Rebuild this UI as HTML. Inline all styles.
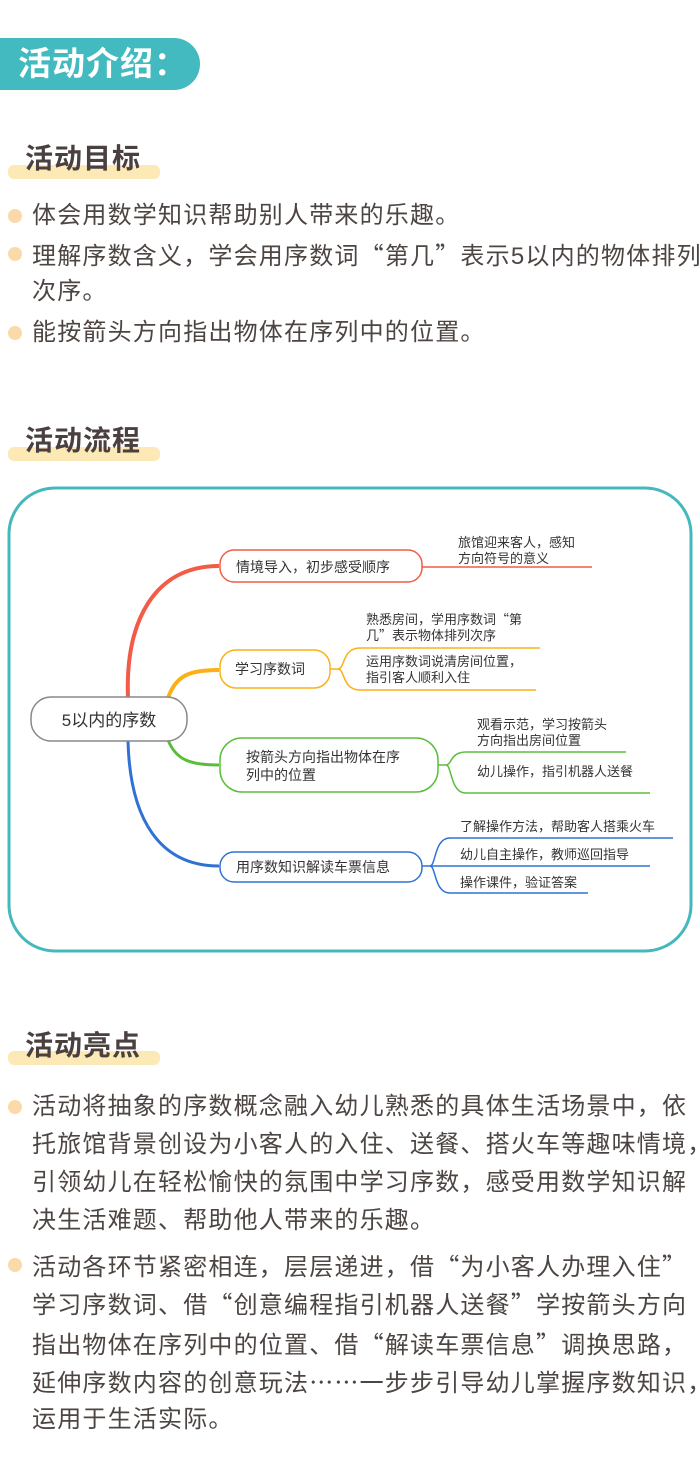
<!DOCTYPE html>
<html><head><meta charset="utf-8">
<style>
*{margin:0;padding:0;box-sizing:border-box}
body{width:700px;height:1477px;background:#fff;position:relative;overflow:hidden;font-family:"Liberation Sans","Noto Sans CJK SC",sans-serif;color:#4d4542}
.banner{position:absolute;left:0;top:38px;width:200px;height:52px;background:#42babf;border-radius:0 26px 26px 0;color:#fff;font-size:33px;font-weight:bold;line-height:52px;padding-left:18px;letter-spacing:1px}
.hl{position:absolute;left:8px;height:14px;background:#fde9b5;border-radius:6px}
.h{position:absolute;left:25px;font-size:28px;font-weight:bold;color:#4a4040;line-height:34px;letter-spacing:1px}
.l{position:absolute;left:32px;font-size:24px;line-height:38px;height:38px;letter-spacing:1.2px;white-space:nowrap}
.q{font-family:"Noto Sans CJK SC",sans-serif}
.dot{position:absolute;left:8px;width:14px;height:14px;border-radius:50%;background:#fbd9a8}
svg text{font-family:"Liberation Sans","Noto Sans CJK SC",sans-serif;fill:#333}
svg tspan.q{font-family:"Noto Sans CJK SC",sans-serif}
</style></head><body>
<div class="banner">活动介绍：</div>

<div class="hl" style="top:165px;width:152px"></div>
<div class="h" style="top:142px">活动目标</div>
<div class="dot" style="top:209px"></div>
<div class="l" style="top:197px">体会用数学知识帮助别人带来的乐趣。</div>
<div class="dot" style="top:247px"></div>
<div class="l" style="top:235px">理解序数含义，学会用序数词<span class="q">“</span>第几<span class="q">”</span>表示5以内的物体排列</div>
<div class="l" style="top:273px">次序。</div>
<div class="dot" style="top:326px"></div>
<div class="l" style="top:314px">能按箭头方向指出物体在序列中的位置。</div>

<div class="hl" style="top:447px;width:152px"></div>
<div class="h" style="top:424px">活动流程</div>

<svg style="position:absolute;left:0;top:0" width="700" height="1000" viewBox="0 0 700 1000">
<rect x="9" y="488" width="682" height="463" rx="46" fill="none" stroke="#45b8bd" stroke-width="3"/>
<path d="M128 698 C125 620 155 566 219 566" fill="none" stroke="#f25b45" stroke-width="4"/>
<path d="M168 698 C176 675 190 670 219 670" fill="none" stroke="#fbb017" stroke-width="4"/>
<path d="M168 740 C176 760 190 765 219 765" fill="none" stroke="#5bbd3c" stroke-width="3"/>
<path d="M128 741 C130 820 160 866 219 866" fill="none" stroke="#2f72d4" stroke-width="3"/>
<rect x="31" y="697" width="156" height="44" rx="20" fill="#fff" stroke="#888" stroke-width="1.5"/>
<text x="109" y="726" font-size="17" text-anchor="middle">5以内的序数</text>
<rect x="220" y="550" width="202" height="32" rx="14" fill="#fff" stroke="#f25b45" stroke-width="1.5"/>
<text x="236" y="572" font-size="14">情境导入，初步感受顺序</text>
<path d="M422 567 L592 567" stroke="#f25b45" stroke-width="1.5"/>
<text x="458" y="547" font-size="13">旅馆迎来客人，感知</text>
<text x="458" y="563" font-size="13">方向符号的意义</text>
<rect x="220" y="650" width="110" height="38" rx="16" fill="#fff" stroke="#fbb017" stroke-width="1.5"/>
<text x="235" y="674" font-size="14">学习序数词</text>
<path d="M330 669 L338 669 C345 669 342 648 360 648 L540 648" fill="none" stroke="#fbb017" stroke-width="1.5"/>
<path d="M338 669 C345 669 342 690 360 690 L536 690" fill="none" stroke="#fbb017" stroke-width="1.5"/>
<text x="366" y="624" font-size="13">熟悉房间，学用序数词<tspan class="q">“</tspan>第</text>
<text x="366" y="640" font-size="13">几<tspan class="q">”</tspan>表示物体排列次序</text>
<text x="366" y="666" font-size="13">运用序数词说清房间位置，</text>
<text x="366" y="682" font-size="13">指引客人顺利入住</text>
<rect x="220" y="738" width="218" height="54" rx="22" fill="#fff" stroke="#5bbd3c" stroke-width="1.5"/>
<text x="246" y="762" font-size="14">按箭头方向指出物体在序</text>
<text x="246" y="780" font-size="14">列中的位置</text>
<path d="M438 765 L446 765 C452 765 450 752 466 752 L626 752" fill="none" stroke="#5bbd3c" stroke-width="1.5"/>
<path d="M446 765 C452 765 450 793 466 793 L650 793" fill="none" stroke="#5bbd3c" stroke-width="1.5"/>
<text x="477" y="729" font-size="13">观看示范，学习按箭头</text>
<text x="477" y="745" font-size="13">方向指出房间位置</text>
<text x="477" y="776" font-size="13">幼儿操作，指引机器人送餐</text>
<rect x="220" y="852" width="202" height="30" rx="14" fill="#fff" stroke="#2f72d4" stroke-width="1.5"/>
<text x="236" y="872" font-size="14">用序数知识解读车票信息</text>
<path d="M422 866 L430 866 C436 866 434 838 450 838 L673 838" fill="none" stroke="#2f72d4" stroke-width="1.5"/>
<path d="M430 866 L650 866" fill="none" stroke="#2f72d4" stroke-width="1.5"/>
<path d="M430 866 C436 866 434 893 450 893 L588 893" fill="none" stroke="#2f72d4" stroke-width="1.5"/>
<text x="460" y="831" font-size="13">了解操作方法，帮助客人搭乘火车</text>
<text x="460" y="859" font-size="13">幼儿自主操作，教师巡回指导</text>
<text x="460" y="887" font-size="13">操作课件，验证答案</text>
</svg>

<div class="hl" style="top:1051px;width:152px"></div>
<div class="h" style="top:1029px">活动亮点</div>
<div class="dot" style="top:1100px"></div>
<div class="l" style="top:1088px">活动将抽象的序数概念融入幼儿熟悉的具体生活场景中，依</div>
<div class="l" style="top:1126px">托旅馆背景创设为小客人的入住、送餐、搭火车等趣味情境，</div>
<div class="l" style="top:1164px">引领幼儿在轻松愉快的氛围中学习序数，感受用数学知识解</div>
<div class="l" style="top:1202px">决生活难题、帮助他人带来的乐趣。</div>
<div class="dot" style="top:1258px"></div>
<div class="l" style="top:1246px">活动各环节紧密相连，层层递进，借<span class="q">“</span>为小客人办理入住<span class="q">”</span></div>
<div class="l" style="top:1284px">学习序数词、借<span class="q">“</span>创意编程指引机器人送餐<span class="q">”</span>学按箭头方向</div>
<div class="l" style="top:1324px">指出物体在序列中的位置、借<span class="q">“</span>解读车票信息<span class="q">”</span>调换思路，</div>
<div class="l" style="top:1362px">延伸序数内容的创意玩法<span class="q">……</span>一步步引导幼儿掌握序数知识，</div>
<div class="l" style="top:1401px">运用于生活实际。</div>
</body></html>
